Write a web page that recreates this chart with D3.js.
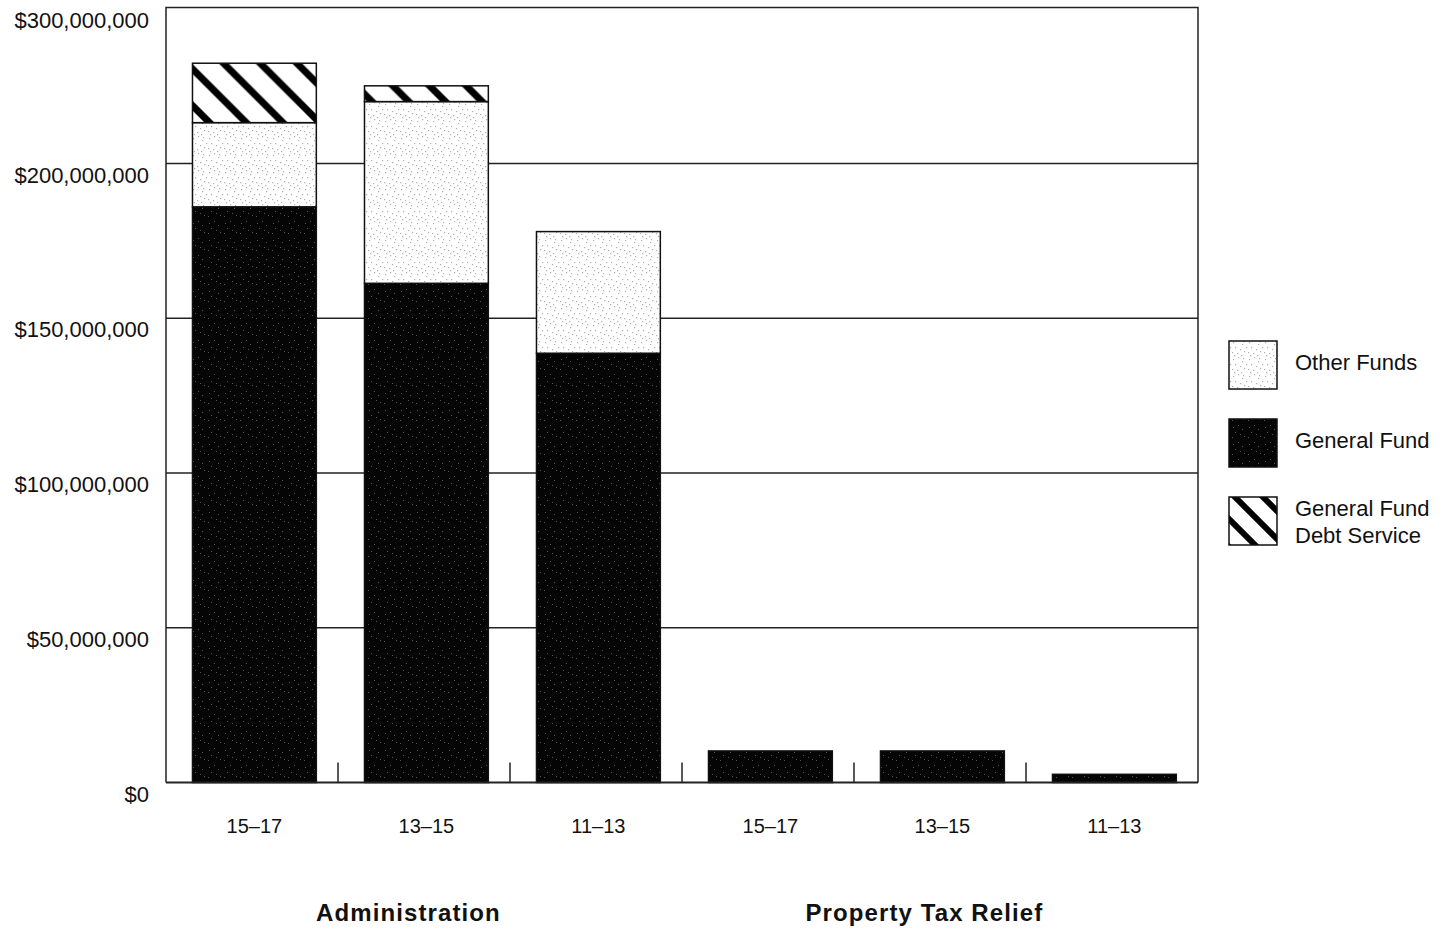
<!DOCTYPE html>
<html>
<head>
<meta charset="utf-8">
<script src="https://cdn.jsdelivr.net/npm/d3@7"></script>
<style>
  html, body { margin: 0; padding: 0; background: #fff; }
  svg { display: block; font-family: "Liberation Sans", Arial, Helvetica, sans-serif; }
</style>
</head>
<body>
<svg id="chart" width="1442" height="929"></svg>
<script>
// ---- Data (values in dollars) ----
const programs = ["Administration", "Administration", "Administration",
                  "Property Tax Relief", "Property Tax Relief", "Property Tax Relief"];
const periods = ["15–17", "13–15", "11–13", "15–17", "13–15", "11–13"];
const generalFund = [186.0e6, 161.3e6, 138.7e6, 10.2e6, 10.2e6, 2.65e6];
const otherFunds = [27.2e6, 58.7e6, 39.3e6, 0, 0, 0];
const debtService = [19.2e6, 5.1e6, 0, 0, 0, 0];
const tickValues = [0, 50e6, 100e6, 150e6, 200e6, 250e6];
const tickLabels = ["$0", "$50,000,000", "$100,000,000", "$150,000,000", "$200,000,000", "$300,000,000"];
const seriesKeys = ["general", "other", "debt"];
const legendLabels = [["Other Funds"], ["General Fund"], ["General Fund", "Debt Service"]];
const legendKeys = ["other", "general", "debt"];

(function () {
// ---- Layout ----
const svg = d3.select("#chart");
const pLeft = 166, pRight = 1198, pTop = 7.5, pBottom = 782.5;

const rows = periods.map((p, i) => ({
  key: i, period: p, program: programs[i],
  general: generalFund[i], other: otherFunds[i], debt: debtService[i]
}));

const x = d3.scaleBand().domain(rows.map(d => d.key)).range([pLeft, pRight])
  .paddingInner(0.28).paddingOuter(0.14).align(0.55);
const y = d3.scaleLinear().domain([0, 250e6]).range([pBottom, 8.75]);

// ---- Patterns ----
const defs = svg.append("defs");
const P = 36.7;
const hatch = defs.append("pattern").attr("id", "hatch")
  .attr("patternUnits", "userSpaceOnUse").attr("width", P).attr("height", P)
  .attr("x", 13.5).attr("y", 0);
hatch.append("rect").attr("width", P).attr("height", P).attr("fill", "#fff");
hatch.append("path")
  .attr("d", `M0,0 L${P},${P} M${-P/4},${3*P/4} L${P/4},${5*P/4} M${3*P/4},${-P/4} L${5*P/4},${P/4}`)
  .attr("stroke", "#000").attr("stroke-width", 7);

const lh = 28;
const hatchL = defs.append("pattern").attr("id", "hatchLegend")
  .attr("patternUnits", "userSpaceOnUse").attr("width", lh).attr("height", lh)
  .attr("x", 1229 + 6).attr("y", 497);
hatchL.append("rect").attr("width", lh).attr("height", lh).attr("fill", "#fff");
hatchL.append("path")
  .attr("d", `M0,0 L${lh},${lh} M${-lh/4},${3*lh/4} L${lh/4},${5*lh/4} M${3*lh/4},${-lh/4} L${5*lh/4},${lh/4}`)
  .attr("stroke", "#000").attr("stroke-width", 6);

const dots = [[1,2],[6,0],[10,4],[3,7],[8,9],[12,11],[0,12],[5,13],[11,1],[14,7],[2,15],[9,15]];
const light = defs.append("pattern").attr("id", "stippleLight")
  .attr("patternUnits", "userSpaceOnUse").attr("width", 16).attr("height", 17);
light.append("rect").attr("width", 16).attr("height", 17).attr("fill", "#fff");
light.selectAll("rect.d").data(dots).join("rect").attr("class", "d")
  .attr("x", d => d[0]).attr("y", d => d[1]).attr("width", 1.2).attr("height", 1.2)
  .attr("fill", "#b0b0b0");

const dark = defs.append("pattern").attr("id", "stippleDark")
  .attr("patternUnits", "userSpaceOnUse").attr("width", 16).attr("height", 17);
dark.append("rect").attr("width", 16).attr("height", 17).attr("fill", "#050505");
dark.selectAll("rect.d").data(dots.slice(0, 7)).join("rect").attr("class", "d")
  .attr("x", d => d[0]).attr("y", d => d[1]).attr("width", 1).attr("height", 1)
  .attr("fill", "#555");

const fills = { general: "url(#stippleDark)", other: "url(#stippleLight)", debt: "url(#hatch)" };
const legendFills = { general: "url(#stippleDark)", other: "url(#stippleLight)", debt: "url(#hatchLegend)" };

// ---- Gridlines ----
svg.append("g").selectAll("line").data(tickValues.filter(v => v > 0 && v < 250e6)).join("line")
  .attr("x1", pLeft).attr("x2", pRight)
  .attr("y1", d => y(d)).attr("y2", d => y(d))
  .attr("stroke", "#222").attr("stroke-width", 1.5);

// ---- Frame ----
svg.append("path")
  .attr("d", `M${pLeft},${pBottom} L${pLeft},${pTop} L${pRight},${pTop} L${pRight},${pBottom}`)
  .attr("fill", "none").attr("stroke", "#222").attr("stroke-width", 1.5);

// ---- Bars ----
const stacked = d3.stack().keys(seriesKeys)(rows);
const gBars = svg.append("g");
stacked.forEach(layer => {
  gBars.append("g").selectAll("rect").data(layer.filter(d => d[1] - d[0] > 0)).join("rect")
    .attr("x", d => x(d.data.key))
    .attr("width", x.bandwidth())
    .attr("y", d => y(d[1]))
    .attr("height", d => y(d[0]) - y(d[1]))
    .attr("fill", fills[layer.key])
    .attr("stroke", "#111").attr("stroke-width", 1.5);
});

// ---- Bottom axis ----
svg.append("line").attr("x1", pLeft).attr("x2", pRight).attr("y1", pBottom).attr("y2", pBottom)
  .attr("stroke", "#222").attr("stroke-width", 1.8);
const step = x.step();
svg.append("g").selectAll("line").data(rows.slice(1)).join("line")
  .attr("x1", d => pLeft + d.key * step)
  .attr("x2", d => pLeft + d.key * step)
  .attr("y1", pBottom - 20).attr("y2", pBottom)
  .attr("stroke", "#222").attr("stroke-width", 1.5);

svg.append("g").selectAll("text").data(rows).join("text")
  .attr("x", d => x(d.key) + x.bandwidth() / 2)
  .attr("y", 833)
  .attr("text-anchor", "middle")
  .attr("font-size", 20)
  .attr("fill", "#111")
  .text(d => d.period);

const groups = Array.from(d3.group(rows, d => d.program), ([k, v]) => ({
  name: k, cx: d3.mean(v, d => x(d.key) + x.bandwidth() / 2)
}));
svg.append("g").selectAll("text").data(groups).join("text")
  .attr("x", d => d.cx - 18)
  .attr("y", 921)
  .attr("text-anchor", "middle")
  .attr("font-size", 24)
  .attr("font-weight", "bold")
  .attr("letter-spacing", 1.1)
  .attr("fill", "#111")
  .text(d => d.name);

// ---- Y axis labels ----
svg.append("g").selectAll("text").data(tickValues).join("text")
  .attr("x", 149)
  .attr("y", d => y(d) + 19)
  .attr("text-anchor", "end")
  .attr("font-size", 22)
  .attr("fill", "#111")
  .text((d, i) => tickLabels[i]);

// ---- Legend ----
const lg = svg.append("g");
legendKeys.forEach((k, i) => {
  const ly = 341 + i * 78;
  lg.append("rect").attr("x", 1229).attr("y", ly).attr("width", 48).attr("height", 48)
    .attr("fill", legendFills[k]).attr("stroke", "#111").attr("stroke-width", 1.5);
  const lines = legendLabels[i];
  const t = lg.append("text").attr("font-size", 22).attr("fill", "#111");
  lines.forEach((s, j) => {
    t.append("tspan").attr("x", 1295)
      .attr("y", lines.length === 1 ? ly + 29 : ly + 19 + j * 27)
      .text(s);
  });
});
})();
</script>
</body>
</html>
